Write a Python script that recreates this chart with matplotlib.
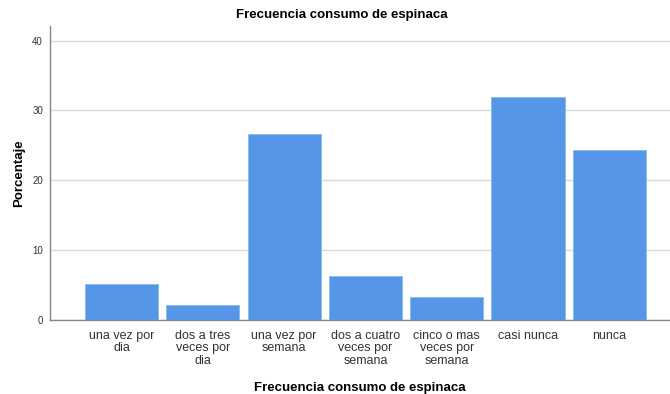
import matplotlib.pyplot as plt
import numpy as np

# Frecuencia consumo de espinaca (porcentaje)
categorias = ['una vez por\ndia', 'dos a tres\nveces por\ndia', 'una vez por\nsemana',
              'dos a cuatro\nveces por\nsemana', 'cinco o mas\nveces por\nsemana',
              'casi nunca', 'nunca']
porcentaje = [5.2, 2.2, 26.7, 6.3, 3.3, 31.9, 24.4]
y_ticks = [0, 10, 20, 30, 40]

plt.rcParams['font.family'] = ['Liberation Sans', 'DejaVu Sans']

fig = plt.figure(figsize=(6.7, 3.94), dpi=100)
ax = fig.add_axes([50 / 670, 1 - 320 / 394, 1 - 50 / 670, 294 / 394])

x = np.arange(len(categorias))
ax.bar(x, porcentaje, width=0.9, color='#5596e6', edgecolor='#8ab8ef', linewidth=0.6, zorder=3)

ax.set_xlim(-0.882, 6.748)
ax.set_ylim(0, 42.1)
ax.set_yticks(y_ticks)
ax.set_xticks(x)
ax.set_xticklabels(categorias, fontsize=9, color='#333333', linespacing=1.08)
ax.tick_params(axis='y', length=0, labelsize=7, pad=5, labelcolor='#333333')
ax.tick_params(axis='x', length=0, pad=7)

ax.grid(axis='y', color='#d9d9d9', linewidth=1, zorder=0)
for s in ['top', 'right']:
    ax.spines[s].set_visible(False)
for s in ['left', 'bottom']:
    ax.spines[s].set_color('#888888')
    ax.spines[s].set_linewidth(1)

ax.set_ylabel('Porcentaje', fontsize=9.5, fontweight='bold', labelpad=5)
ax.set_xlabel('Frecuencia consumo de espinaca', fontsize=9.5, fontweight='bold', labelpad=11)
fig.text(342 / 670, 1 - 15 / 394, 'Frecuencia consumo de espinaca', fontsize=9.5,
         fontweight='bold', ha='center', va='center')

fig.savefig('out.png', dpi=100)
